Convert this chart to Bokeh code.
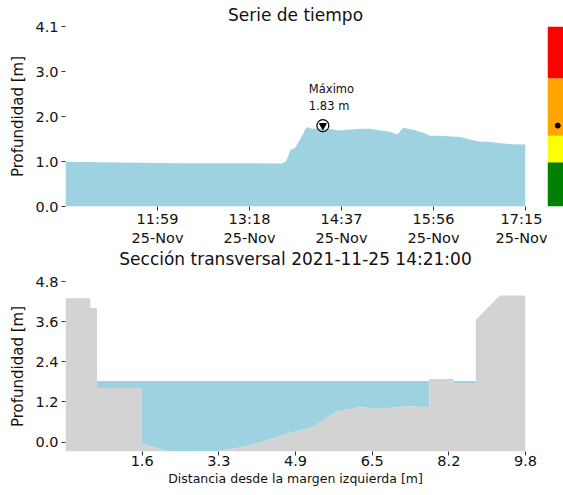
import numpy as np
from bokeh.plotting import figure
from bokeh.layouts import column, row
from bokeh.models import Range1d, FixedTicker, Label
from bokeh.embed import file_html
from bokeh.resources import INLINE

FONT = "DejaVu Sans"

# ---------------- data: time series ----------------
ts_times = ["10:40", "11:10", "11:44", "12:19", "12:53", "13:19", "13:36", "13:46",
            "13:49", "13:51", "13:53", "13:57", "13:58", "14:01", "14:04", "14:06",
            "14:08", "14:10", "14:14", "14:17", "14:21", "14:24", "14:28", "14:32",
            "14:36", "14:40", "14:45", "14:50", "14:55", "15:00", "15:05", "15:10",
            "15:16", "15:21", "15:25", "15:28", "15:30", "15:34", "15:38", "15:43",
            "15:48", "15:53", "16:02", "16:11", "16:19", "16:24", "16:30", "16:35",
            "16:45", "16:54", "17:04", "17:15"]
ts_depth = [1.01, 1.00, 0.99, 0.98, 0.98, 0.98, 0.97, 0.97,
            1.02, 1.12, 1.28, 1.32, 1.36, 1.50, 1.64, 1.76,
            1.80, 1.77, 1.76, 1.77, 1.76, 1.74, 1.75, 1.73,
            1.72, 1.73, 1.74, 1.75, 1.76, 1.76, 1.74, 1.72,
            1.70, 1.67, 1.63, 1.72, 1.78, 1.76, 1.74, 1.70,
            1.66, 1.60, 1.60, 1.58, 1.57, 1.54, 1.50, 1.47,
            1.46, 1.43, 1.41, 1.40]
ts_start, ts_end = "10:40", "17:15"
ts_ymax = 4.07
ts_xtick_times = ["11:59", "13:18", "14:37", "15:56", "17:15"]
ts_date_label = "25-Nov"
ts_ytick_values = [0.0, 1.0175, 2.035, 3.0525, 4.07]
ts_ytick_labels = ["0.0", "1.0", "2.0", "3.0", "4.1"]
max_time = "14:21"
max_depth = 1.83
ts_title = "Serie de tiempo"

# alert levels (colour bar)
level_bottom = [0.0, 1.0, 1.6, 2.9]
level_top = [1.0, 1.6, 2.9, 4.07]
level_colors = ["#008000", "#ffff00", "#ffa500", "#ff0000"]

# ---------------- data: cross section ----------------
bed_x = [0.0, 0.53, 0.53, 0.67, 0.67, 1.63, 1.63, 2.10, 2.30, 3.20, 3.75, 4.22,
         4.72, 5.27, 5.76, 6.26, 6.72, 7.26, 7.75, 7.75, 8.27, 8.27, 8.74, 8.74,
         9.25, 9.80]
bed_y = [4.30, 4.30, 4.01, 4.01, 1.62, 1.62, -0.05, -0.25, -0.28, -0.27, -0.15, 0.02,
         0.25, 0.45, 0.90, 1.04, 1.00, 1.07, 1.04, 1.89, 1.89, 1.77, 1.77, 3.65,
         4.38, 4.38]
water_level = 1.83
xs_ymin, xs_ymax = -0.28, 4.8
xs_xtick_values = [1.6333, 3.2667, 4.9, 6.5333, 8.1667, 9.8]
xs_xtick_labels = ["1.6", "3.3", "4.9", "6.5", "8.2", "9.8"]
xs_ytick_values = [0.0, 1.2, 2.4, 3.6, 4.8]
xs_ytick_labels = ["0.0", "1.2", "2.4", "3.6", "4.8"]
xs_title = "Sección transversal 2021-11-25 14:21:00"


def to_min(s):
    h, m = s.split(":")
    return int(h) * 60 + int(m)


BLUE = "#9ed2e0"
GRAY = "#d3d3d3"


def style_axes(p):
    p.outline_line_color = None
    p.grid.visible = False
    p.background_fill_color = "white"
    p.border_fill_color = "white"
    for ax in p.axis:
        ax.axis_line_color = None
        ax.major_tick_line_color = "#333333"
        ax.major_tick_out = 4
        ax.major_tick_in = 0
        ax.minor_tick_line_color = None
        ax.major_label_text_font = FONT
        ax.major_label_text_font_size = "14.5px"
        ax.major_label_text_color = "#111111"
        ax.axis_label_text_font = FONT
        ax.axis_label_text_font_style = "normal"
        ax.axis_label_text_color = "#111111"
    p.xaxis.major_label_standoff = 0
    p.yaxis.major_label_standoff = 3


# ---------------- top: time series ----------------
t = np.array([to_min(s) for s in ts_times], dtype=float)
d = np.array(ts_depth)
t0, t1 = to_min(ts_start), to_min(ts_end)

ts = figure(width=547, height=248, output_backend="svg", toolbar_location=None,
            x_range=Range1d(t0, t1), y_range=Range1d(0, ts_ymax),
            min_border_left=65, min_border_right=22, min_border_top=26, min_border_bottom=41)
ts.varea(x=t, y1=np.zeros_like(d), y2=d, fill_color=BLUE)
style_axes(ts)
ts.title.text = ts_title
ts.title.align = "center"
ts.title.text_font = FONT
ts.title.text_font_size = "17px"
ts.title.text_font_style = "normal"
ts.title.text_color = "#111111"
ts.title.standoff = 4
xt = [to_min(s) for s in ts_xtick_times]
ts.xaxis.ticker = FixedTicker(ticks=xt)
ts.xaxis.major_label_overrides = {v: f"{s}\n{ts_date_label}" for v, s in zip(xt, ts_xtick_times)}
ts.yaxis.ticker = FixedTicker(ticks=ts_ytick_values)
ts.yaxis.major_label_overrides = dict(zip(ts_ytick_values, ts_ytick_labels))
ts.yaxis.axis_label = "Profundidad [m]"
ts.yaxis.axis_label_text_font_size = "15px"
ts.yaxis.axis_label_standoff = 5

mt = to_min(max_time)
ts.scatter(x=[mt], y=[max_depth], marker="circle", size=12, fill_color="white",
           fill_alpha=0.0, line_color="black", line_width=1.2)
ts.scatter(x=[mt], y=[max_depth], marker="inverted_triangle", size=7,
           fill_color="black", line_color="black")
ts.add_layout(Label(x=mt, y=max_depth, x_offset=-14, y_offset=13,
                    text=f"Máximo\n{max_depth:.2f} m", text_font=FONT,
                    text_font_size="11.5px", text_color="#111111",
                    text_align="left", text_baseline="bottom"))

# ---------------- colour bar ----------------
cb = figure(width=16, height=248, output_backend="svg", toolbar_location=None,
            x_range=Range1d(0, 1), y_range=Range1d(0, ts_ymax),
            min_border_left=0, min_border_right=0, min_border_top=26, min_border_bottom=41)
cb.quad(left=0, right=1, bottom=level_bottom, top=level_top,
        fill_color=level_colors, line_color=None)
cb.scatter(x=[0.64], y=[max_depth], size=5, color="black")
cb.axis.visible = False
cb.grid.visible = False
cb.outline_line_color = None
cb.border_fill_color = "white"

# ---------------- title strip for the cross section ----------------
bx = np.array(bed_x)
by = np.array(bed_y)
tt = figure(width=547, height=24, output_backend="svg", toolbar_location=None,
            x_range=Range1d(0, bx.max()), y_range=Range1d(0, 1),
            x_axis_location=None, y_axis_location=None,
            min_border_left=65, min_border_right=22, min_border_top=0, min_border_bottom=0)
tt.grid.visible = False
tt.outline_line_color = None
tt.border_fill_color = "white"
tt.add_layout(Label(x=bx.max() / 2, y=0.58, text=xs_title, text_font=FONT,
                    text_font_size="17px", text_color="#111111",
                    text_align="center", text_baseline="middle"))

# ---------------- bottom: cross section ----------------
xs = figure(width=547, height=223, output_backend="svg", toolbar_location=None,
            x_range=Range1d(0, bx.max()), y_range=Range1d(xs_ymin, xs_ymax),
            min_border_left=65, min_border_right=22, min_border_top=9, min_border_bottom=44)
xs.varea(x=bx, y1=by, y2=np.maximum(by, water_level), fill_color=BLUE)
xs.varea(x=bx, y1=np.full_like(by, xs_ymin), y2=by, fill_color=GRAY)
style_axes(xs)
xs.xaxis.ticker = FixedTicker(ticks=xs_xtick_values)
xs.xaxis.major_label_overrides = dict(zip(xs_xtick_values, xs_xtick_labels))
xs.yaxis.ticker = FixedTicker(ticks=xs_ytick_values)
xs.yaxis.major_label_overrides = dict(zip(xs_ytick_values, xs_ytick_labels))
xs.yaxis.axis_label = "Profundidad [m]"
xs.yaxis.axis_label_text_font_size = "15px"
xs.yaxis.axis_label_standoff = 5
xs.xaxis.axis_label = "Distancia desde la margen izquierda [m]"
xs.xaxis.axis_label_text_font_size = "12.5px"
xs.xaxis.axis_label_standoff = 2

layout = column(row(ts, cb), tt, xs)
open("out.html", "w").write(file_html(layout, INLINE))
